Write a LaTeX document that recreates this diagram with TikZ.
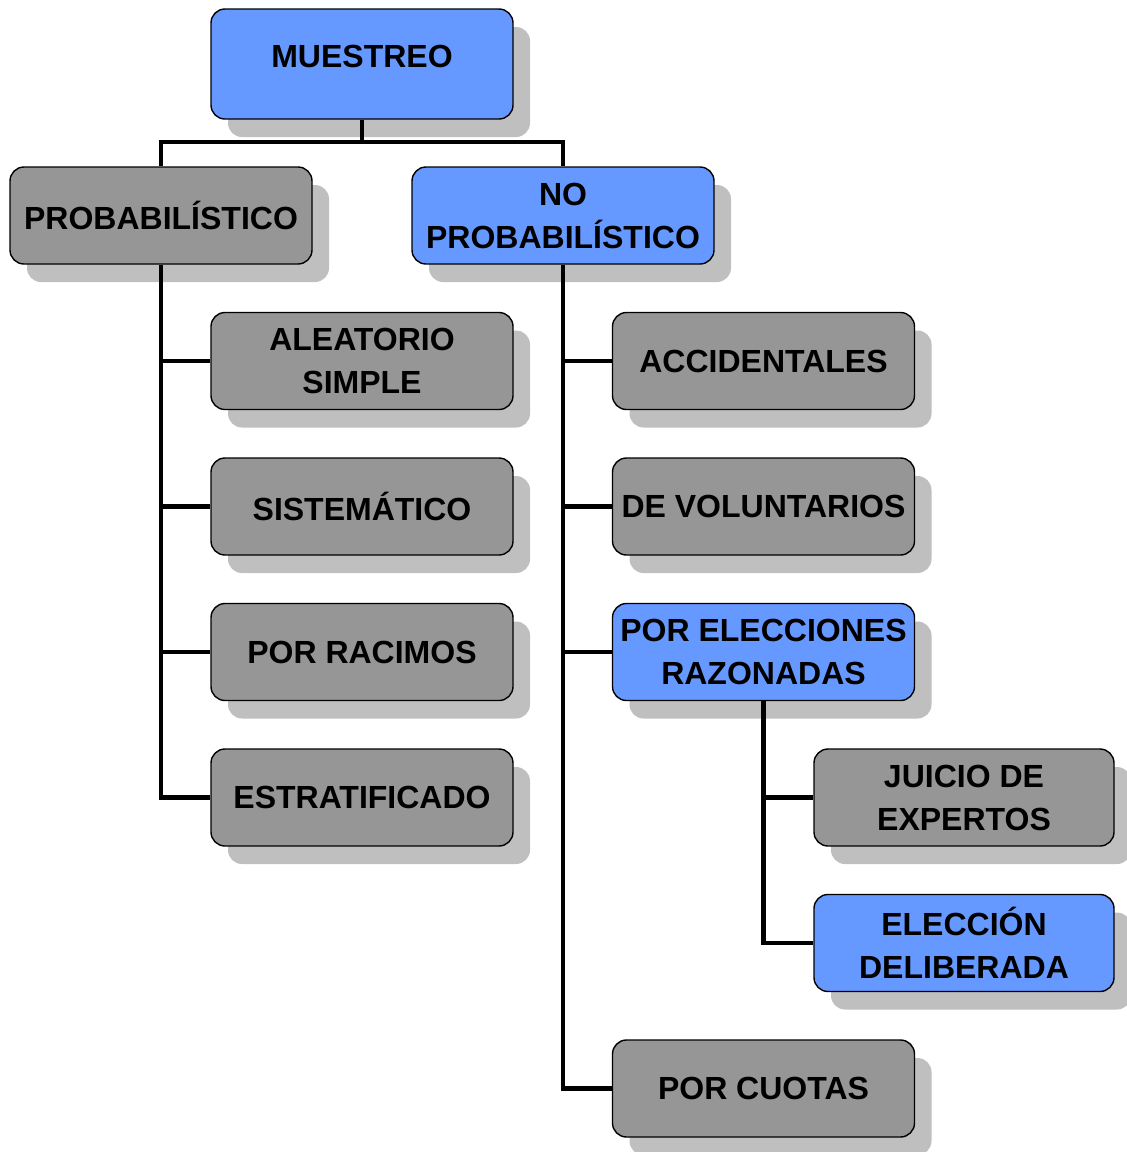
\documentclass[tikz,border=0pt]{standalone}
\usepackage{fontspec}
\setmainfont{Liberation Sans}
\usetikzlibrary{shadows,backgrounds}
\definecolor{boxblue}{HTML}{6699FF}
\definecolor{boxgray}{HTML}{969696}
\begin{document}
\begin{tikzpicture}[x=1pt,y=-1pt,
  box/.style={draw=black, line width=1.4pt, rounded corners=14pt,
    minimum width=302pt, minimum height=97pt, align=center, inner sep=2pt,
    font=\fontsize{32}{43}\selectfont\bfseries,
    drop shadow={shadow xshift=17pt, shadow yshift=-18pt, fill=black, opacity=0.25}},
  grayb/.style={box, fill=boxgray},
  blueb/.style={box, fill=boxblue},
  link/.style={line width=4.5pt, draw=black}]
\useasboundingbox (0,0) rectangle (1127,1152);

% root
\node[blueb, minimum height=110pt, text depth=16pt] (m) at (362,64) {MUESTREO};
% first level
\node[grayb] (p)  at (161,215.5) {PROBABILÍSTICO};
\node[blueb] (np) at (563,215.5) {NO\\PROBABILÍSTICO};
% probabilistic branch
\node[grayb] (al) at (362,361)   {ALEATORIO\\SIMPLE};
\node[grayb] (si) at (362,506.5) {SISTEMÁTICO};
\node[grayb] (ra) at (362,652)   {POR RACIMOS};
\node[grayb] (es) at (362,797.5) {ESTRATIFICADO};
% non-probabilistic branch
\node[grayb] (ac) at (763.5,361)   {ACCIDENTALES};
\node[grayb] (vo) at (763.5,506.5) {DE VOLUNTARIOS};
\node[blueb] (el) at (763.5,652)   {POR ELECCIONES\\RAZONADAS};
\node[grayb, minimum width=300pt] (ju) at (964,797.5) {JUICIO DE\\EXPERTOS};
\node[blueb, minimum width=300pt] (de) at (964,943)   {ELECCIÓN\\DELIBERADA};
\node[grayb] (cu) at (763.5,1088.5) {POR CUOTAS};

\coordinate (bar) at (0,142);
\begin{scope}[on background layer]
  \draw[link] (m.south) -- (m.south |- bar);
  \draw[link] (p.north) -- (p.north |- bar) -- (np.north |- bar) -- (np.north);
  % left trunk
  \draw[link] (p.south) |- (es.west);
  \draw[link] (p.south |- al.west) -- (al.west);
  \draw[link] (p.south |- si.west) -- (si.west);
  \draw[link] (p.south |- ra.west) -- (ra.west);
  % right trunk
  \draw[link] (np.south) |- (cu.west);
  \draw[link] (np.south |- ac.west) -- (ac.west);
  \draw[link] (np.south |- vo.west) -- (vo.west);
  \draw[link] (np.south |- el.west) -- (el.west);
  % sub trunk
  \draw[link] (el.south) |- (de.west);
  \draw[link] (el.south |- ju.west) -- (ju.west);
\end{scope}
\end{tikzpicture}
\end{document}
